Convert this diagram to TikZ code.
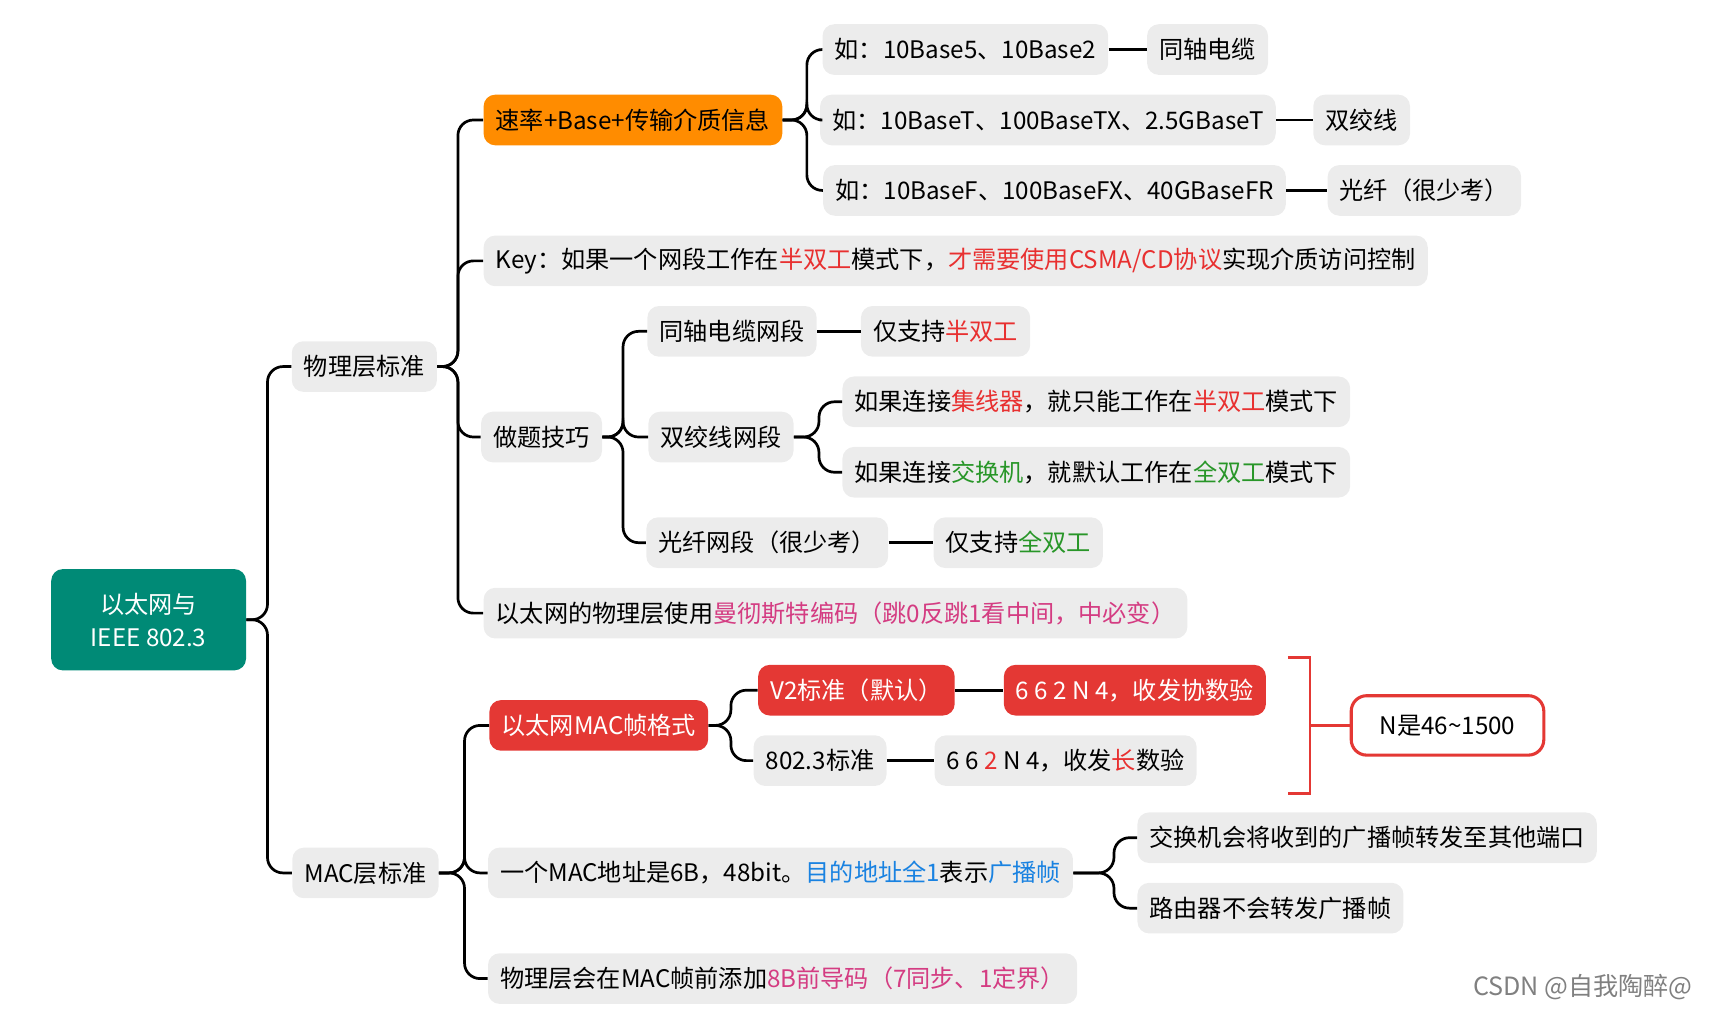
\documentclass[tikz,border=0pt]{standalone}
\usepackage{fontspec}
\setmainfont{Noto Sans CJK SC}
\usetikzlibrary{positioning}
\definecolor{boxgrey}{RGB}{236,236,236}
\definecolor{tealroot}{RGB}{0,138,118}
\definecolor{orangebox}{RGB}{255,140,0}
\definecolor{redbox}{RGB}{228,56,52}
\definecolor{redtxt}{RGB}{232,48,48}
\definecolor{greentxt}{RGB}{40,150,40}
\definecolor{bluetxt}{RGB}{25,130,225}
\definecolor{pinktxt}{RGB}{212,60,130}
\tikzset{
  topic/.style={rounded corners=6pt, fill=boxgrey, inner xsep=0.22cm, minimum height=0.92cm, font=\fontsize{12.5}{15}\selectfont},
  hot/.style={topic, fill=redbox, text=white},
  warm/.style={topic, fill=orangebox, text=black},
  branch/.style={line width=1.4pt, rounded corners=8pt},
  link/.style={line width=1.4pt}
}
\newcommand{\hl}[2]{\textcolor{#1}{#2}}
\begin{document}
\begin{tikzpicture}[x=0.02cm, y=-0.02cm]
    \useasboundingbox (0,0) rectangle (1568,924);

    % root
    \node[rounded corners=6pt, fill=tealroot, text=white, align=center, minimum width=3.54cm, minimum height=1.84cm, font=\fontsize{12.5}{17}\selectfont] (root) at (135,563) {以太网与\\IEEE 802.3};

    % physical layer
    \node[topic] (phys) at (331,333) {物理层标准};
    \node[warm] (rate) at (575,109) {速率+Base+传输介质信息};
    \node[topic] (ex1) at (877,45) {如：10Base5、10Base2};
    \node[topic] (coax) at (1097,45) {同轴电缆};
    \node[topic] (ex2) at (952,109) {如：10BaseT、100BaseTX、2.5GBaseT};
    \node[topic] (pair) at (1237,109) {双绞线};
    \node[topic] (ex3) at (958,173) {如：10BaseF、100BaseFX、40GBaseFR};
    \node[topic] (fibre) at (1294,173) {光纤（很少考）};
    \node[topic, anchor=west] (key) at (439,237) {Key：如果一个网段工作在\hl{redtxt}{半双工}模式下，\hl{redtxt}{才需要使用CSMA/CD协议}实现介质访问控制};
    \node[topic] (tips) at (492,397) {做题技巧};
    \node[topic] (coaxseg) at (665,301) {同轴电缆网段};
    \node[topic] (coaxonly) at (859,301) {仅支持\hl{redtxt}{半双工}};
    \node[topic] (pairseg) at (655,397) {双绞线网段};
    \node[topic, anchor=west] (hub) at (765,365) {如果连接\hl{redtxt}{集线器}，就只能工作在\hl{redtxt}{半双工}模式下};
    \node[topic, anchor=west] (switch) at (765,429) {如果连接\hl{greentxt}{交换机}，就默认工作在\hl{greentxt}{全双工}模式下};
    \node[topic] (fibreseg) at (697,493) {光纤网段（很少考）};
    \node[topic] (fibreonly) at (925,493) {仅支持\hl{greentxt}{全双工}};
    \node[topic, anchor=west] (manch) at (439,557) {以太网的物理层使用\hl{pinktxt}{曼彻斯特编码（跳0反跳1看中间，中必变）}};

    % MAC layer
    \node[topic] (mac) at (332,793) {MAC层标准};
    \node[hot] (frame) at (544,659) {以太网MAC帧格式};
    \node[hot] (vtwo) at (778,627) {V2标准（默认）};
    \node[hot] (vtwof) at (1031,627) {6 6 2 N 4，收发协数验};
    \node[topic] (ieee) at (745,691) {802.3标准};
    \node[topic] (ieeef) at (968,691) {6 6 \hl{redtxt}{2} N 4，收发\hl{redtxt}{长}数验};
    \node[rounded corners=8pt, draw=redbox, line width=1.6pt, fill=white, minimum width=3.5cm, minimum height=1.08cm, font=\fontsize{12.5}{15}\selectfont] (nrange) at (1315,659) {N是46\textasciitilde1500};
    \node[topic, anchor=west] (addr) at (443,793) {一个MAC地址是6B，48bit。\hl{bluetxt}{目的地址全1}表示\hl{bluetxt}{广播帧}};
    \node[topic, anchor=west] (swfwd) at (1033,761) {交换机会将收到的广播帧转发至其他端口};
    \node[topic, anchor=west] (router) at (1033,825) {路由器不会转发广播帧};
    \node[topic, anchor=west] (pre) at (443,889) {物理层会在MAC帧前添加\hl{pinktxt}{8B前导码（7同步、1定界）}};
    \node[text=gray, font=\fontsize{13}{15}\selectfont] (csdn) at (1438,897) {CSDN @自我陶醉@};

    % bracket
    \draw[link, draw=redbox] (1170,597) -- (1190,597) -- (1190,721) -- (1170,721);
    \draw[link, draw=redbox] (1190,659) -- (nrange.west);

    % tree branches
    \foreach \kid in {phys, mac}
        \draw[branch] (root.east) -- (243,563) |- (\kid.west);
    \foreach \kid in {rate, key, tips, manch}
        \draw[branch] (phys.east) -- (416,333) |- (\kid.west);
    \foreach \kid in {ex1, ex2, ex3}
        \draw[branch] (rate.east) -- (733,109) |- (\kid.west);
    \foreach \kid in {coaxseg, pairseg, fibreseg}
        \draw[branch] (tips.east) -- (566,397) |- (\kid.west);
    \foreach \kid in {hub, switch}
        \draw[branch] (pairseg.east) -- (744,397) |- (\kid.west);
    \foreach \kid in {frame, addr, pre}
        \draw[branch] (mac.east) -- (422,793) |- (\kid.west);
    \foreach \kid in {vtwo, ieee}
        \draw[branch] (frame.east) -- (664,659) |- (\kid.west);
    \foreach \kid in {swfwd, router}
        \draw[branch] (addr.east) -- (1012,793) |- (\kid.west);

    % plain links
    \draw[link] (ex1) -- (coax);
    \draw[link] (ex2) -- (pair);
    \draw[link] (ex3) -- (fibre);
    \draw[link] (coaxseg) -- (coaxonly);
    \draw[link] (fibreseg) -- (fibreonly);
    \draw[link] (vtwo) -- (vtwof);
    \draw[link] (ieee) -- (ieeef);
\end{tikzpicture}
\end{document}
